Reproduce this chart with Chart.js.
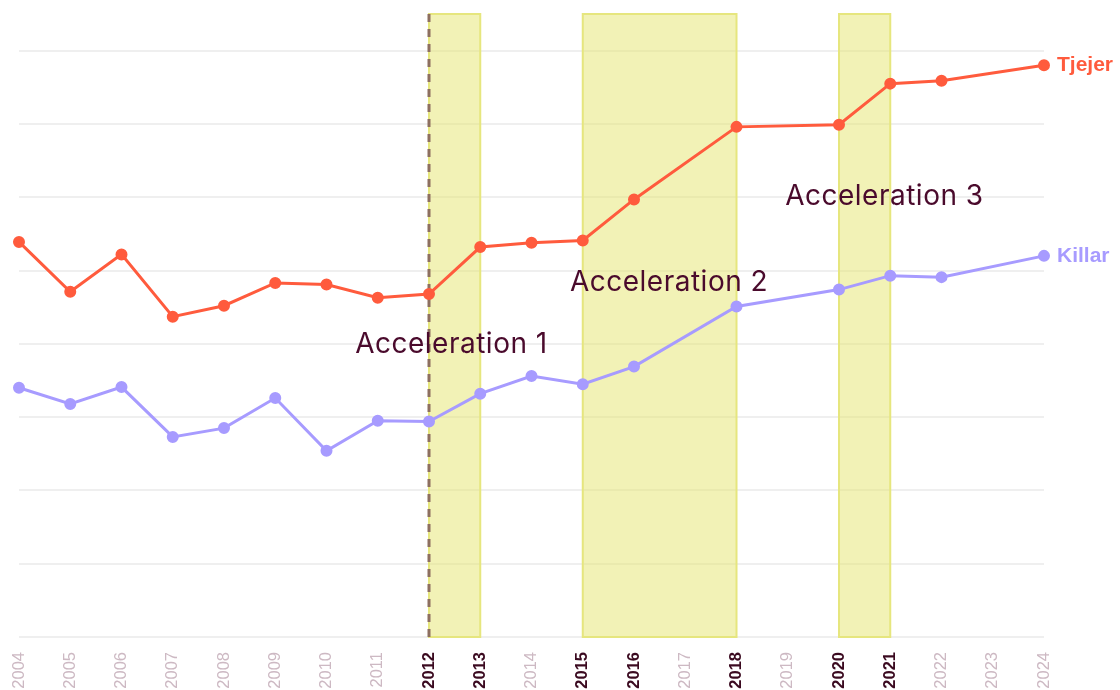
<!DOCTYPE html>
<html>
<head>
<meta charset="utf-8">
<script src="https://cdn.jsdelivr.net/npm/chart.js@4.4.1/dist/chart.umd.min.js"></script>
<style>
    html, body { margin: 0; padding: 0; background: #ffffff; }
    #wrap { width: 1120px; height: 690px; position: relative; }
</style>
</head>
<body>
<div id="wrap"><canvas id="chart"></canvas></div>
<script>
// years on the x axis
const years = ['2004','2005','2006','2007','2008','2009','2010','2011','2012','2013','2014',
               '2015','2016','2017','2018','2019','2020','2021','2022','2023','2024'];
// years printed bold (band edges)
const boldYears = ['2012','2013','2015','2016','2018','2020','2021'];

// values (no y labels in the original, so units are arbitrary)
const tjejer = [5.39, 4.71, 5.22, 4.37, 4.52, 4.83, 4.81, 4.63, 4.68, 5.32, 5.38,
                5.41, 5.97, null, 6.96, null, 6.99, 7.55, 7.59, null, 7.80];
const killar = [3.40, 3.18, 3.41, 2.73, 2.85, 3.26, 2.54, 2.95, 2.94, 3.32, 3.56,
                3.45, 3.69, null, 4.51, null, 4.74, 4.93, 4.91, null, 5.20];

// shaded periods
const bandStart = ['2012', '2015', '2020'];
const bandEnd   = ['2013', '2018', '2021'];
const markerYear = '2012';

// annotations: text, x (category index), y (value)
const noteText = ['Acceleration 1', 'Acceleration 2', 'Acceleration 3'];
const noteX = [6.56, 10.75, 14.95];
const noteY = [3.99, 4.83, 6.01];

const orange = '#ff5b3d';
const lilac = '#a79bff';

// shaded bands + dashed marker
const bandsPlugin = {
    id: 'bands',
    beforeDatasetsDraw(chart) {
        const ctx = chart.ctx;
        const xs = chart.scales.x;
        const area = chart.chartArea;
        ctx.save();
        for (let i = 0; i < bandStart.length; i++) {
            const x1 = xs.getPixelForValue(years.indexOf(bandStart[i]));
            const x2 = xs.getPixelForValue(years.indexOf(bandEnd[i]));
            ctx.fillStyle = 'rgba(230, 230, 110, 0.5)';
            ctx.fillRect(x1, area.top, x2 - x1, area.bottom - area.top);
            ctx.strokeStyle = '#e6e67e';
            ctx.lineWidth = 2;
            ctx.strokeRect(x1, area.top, x2 - x1, area.bottom - area.top);
        }
        const xm = xs.getPixelForValue(years.indexOf(markerYear));
        ctx.strokeStyle = '#8d6f60';
        ctx.lineWidth = 3;
        ctx.setLineDash([8, 7]);
        ctx.beginPath();
        ctx.moveTo(xm, area.top);
        ctx.lineTo(xm, area.bottom);
        ctx.stroke();
        ctx.restore();
    }
};

// series names at the line ends + annotation texts
const labelsPlugin = {
    id: 'endLabels',
    afterDatasetsDraw(chart) {
        const ctx = chart.ctx;
        const xs = chart.scales.x;
        const ys = chart.scales.y;
        ctx.save();
        ctx.font = 'bold 21px "Liberation Sans", Arial, sans-serif';
        ctx.textBaseline = 'middle';
        ctx.textAlign = 'left';
        chart.data.datasets.forEach(function(ds, i) {
            const meta = chart.getDatasetMeta(i);
            const last = meta.data[meta.data.length - 1];
            ctx.fillStyle = ds.borderColor;
            ctx.fillText(ds.label, last.x + 13, last.y);
        });
        ctx.font = '28px Inter, "Noto Sans", sans-serif';
        ctx.letterSpacing = '0.5px';
        ctx.fillStyle = '#4a0a2c';
        for (let i = 0; i < noteText.length; i++) {
            ctx.fillText(noteText[i], xs.getPixelForValue(noteX[i]), ys.getPixelForValue(noteY[i]));
        }
        ctx.restore();
    }
};

new Chart(document.getElementById('chart').getContext('2d'), {
    type: 'line',
    data: {
        labels: years,
        datasets: [
            {
                label: 'Tjejer',
                data: tjejer,
                borderColor: orange,
                backgroundColor: orange,
                borderWidth: 3,
                pointRadius: 4.5,
                pointHoverRadius: 4.5,
                spanGaps: true,
                tension: 0
            },
            {
                label: 'Killar',
                data: killar,
                borderColor: lilac,
                backgroundColor: lilac,
                borderWidth: 3,
                pointRadius: 4.5,
                pointHoverRadius: 4.5,
                spanGaps: true,
                tension: 0
            }
        ]
    },
    options: {
        responsive: true,
        maintainAspectRatio: false,
        animation: false,
        layout: { padding: { left: 19, right: 76, top: 14, bottom: 0 } },
        plugins: {
            legend: { display: false },
            tooltip: { enabled: false }
        },
        scales: {
            x: {
                offset: false,
                grid: { display: false, drawTicks: false },
                border: { display: false },
                afterFit: function(scale) { scale.height = 53; },
                ticks: {
                    minRotation: 90,
                    maxRotation: 90,
                    autoSkip: false,
                    padding: 15,
                    font: function(c) {
                        const b = boldYears.indexOf(years[c.index]) !== -1;
                        return { family: '"Liberation Sans", Arial, sans-serif', size: 16.5, weight: b ? 'bold' : 'normal' };
                    },
                    color: function(c) {
                        return boldYears.indexOf(years[c.index]) !== -1 ? '#3b0a20' : '#cdb9c3';
                    }
                }
            },
            y: {
                min: 0,
                max: 8.5,
                grid: { color: '#efefef', lineWidth: 2, drawTicks: false },
                border: { display: false },
                ticks: { display: false, stepSize: 1, includeBounds: false }
            }
        }
    },
    plugins: [bandsPlugin, labelsPlugin]
});
</script>
</body>
</html>
